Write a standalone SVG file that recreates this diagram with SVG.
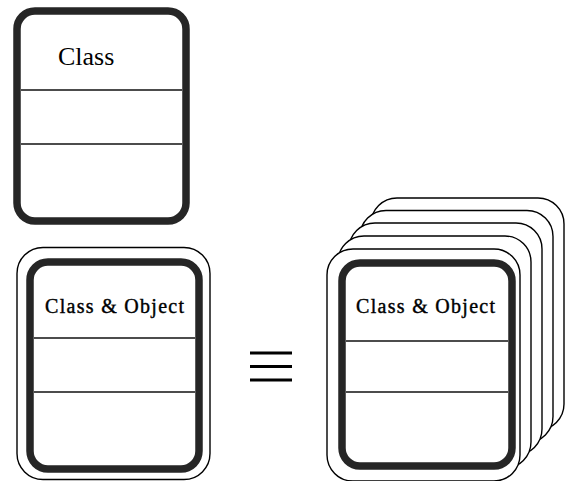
<svg xmlns="http://www.w3.org/2000/svg" width="568" height="481" viewBox="0 0 568 481">
  <style>
    .thick { fill: #fff; stroke: #262626; stroke-width: 7.5; }
    .thin { fill: #fff; stroke: #000; stroke-width: 1.4; }
    .div { stroke: #111; stroke-width: 1.5; }
    .lbl { font-family: "Liberation Serif", "Times New Roman", serif; fill: #000; }
    .heavy { stroke: #000; stroke-width: 0.4; }
    .eq { stroke: #000; stroke-width: 3; }
  </style>

  <!-- plain class -->
  <g id="class">
    <rect class="thick" x="17" y="11" width="169" height="210" rx="18"/>
    <line class="div" x1="21" y1="90" x2="182" y2="90"/>
    <line class="div" x1="21" y1="144" x2="182" y2="144"/>
    <text class="lbl" x="58" y="65" font-size="26">Class</text>
  </g>

  <!-- class with a single object -->
  <g id="class-object">
    <rect class="thin" x="17" y="247.5" width="193" height="232" rx="26"/>
    <rect class="thick" x="30" y="262" width="169" height="207" rx="18"/>
    <line class="div" x1="34" y1="338" x2="195" y2="338"/>
    <line class="div" x1="34" y1="392" x2="195" y2="392"/>
    <text class="lbl heavy" x="45" y="313" font-size="20" letter-spacing="1.3">Class &amp; Object</text>
  </g>

  <!-- equivalence sign -->
  <g id="equiv">
    <line class="eq" x1="250" y1="353" x2="292" y2="353"/>
    <line class="eq" x1="250" y1="366.5" x2="292" y2="366.5"/>
    <line class="eq" x1="250" y1="380" x2="292" y2="380"/>
  </g>

  <!-- class with many objects: stacked cards, back to front -->
  <g id="class-objects">
    <rect class="thin" x="371" y="198" width="193" height="232" rx="26"/>
    <rect class="thin" x="360" y="210.5" width="193" height="232" rx="26"/>
    <rect class="thin" x="349" y="223" width="193" height="232" rx="26"/>
    <rect class="thin" x="338" y="236" width="193" height="232" rx="26"/>
    <rect class="thin" x="327" y="249" width="193" height="232" rx="26"/>
    <rect class="thick" x="342" y="263" width="170" height="203" rx="18"/>
    <line class="div" x1="346" y1="341" x2="508" y2="341"/>
    <line class="div" x1="346" y1="392" x2="508" y2="392"/>
    <text class="lbl heavy" x="356" y="313" font-size="20" letter-spacing="1.3">Class &amp; Object</text>
  </g>
</svg>
